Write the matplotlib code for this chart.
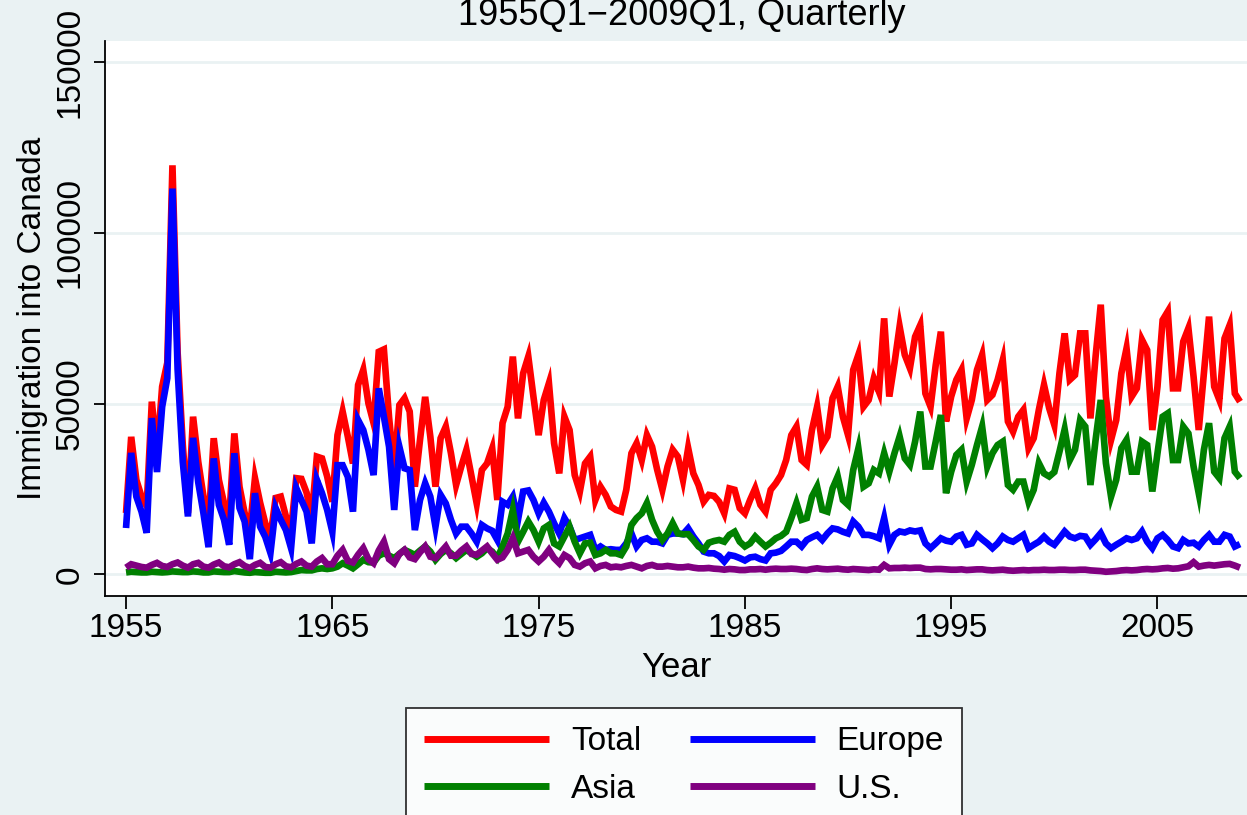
import matplotlib
matplotlib.use("Agg")
import matplotlib.pyplot as plt
import numpy as np

plt.rcParams['font.family'] = ['Liberation Sans', 'DejaVu Sans']

start_year = 1955
# quarterly values, 1955Q1 .. 2009Q1 (thousands)
total = [
    18, 40.3, 27.7, 22.8, 20, 50.6, 35, 55, 62, 119.8, 65, 38,
    18, 46.2, 33, 23, 15, 39.9, 27.7, 20.9, 16, 41.3, 25.7, 18,
    13, 28.2, 21, 15, 11, 22.4, 22.8, 17, 13, 28.2, 28, 24,
    16.9, 34.5, 34, 28.7, 21.3, 40.8, 47.7, 40.4, 32.5, 55.5, 59.9, 50.1,
    44.3, 65.2, 65.9, 46, 30.6, 49.6, 51.6, 47.7, 25.7, 39.4, 52, 40.4,
    25.7, 39.9, 43.3, 35.5, 26.2, 31.6, 36.5, 28.6, 20.8, 30.6, 32.5, 36.9,
    21.8, 44.3, 49.1, 63.8, 45.7, 58.9, 63.8, 52, 40.8, 51.1, 56, 38.4,
    29.6, 46.2, 42.3, 29.1, 24.3, 32.5, 34.5, 21.8, 25.7, 23.3, 19.9, 18.9,
    18.4, 24.8, 35.5, 38.4, 33.5, 40.8, 37.4, 30.6, 24.8, 31.6, 36.5, 34.5,
    27.7, 37, 29.6, 26.2, 21.3, 23.3, 23, 21.3, 17.9, 25.2, 24.8, 19.4,
    17.9, 21.8, 25.2, 20.4, 18.4, 24.8, 26.7, 29.1, 33.5, 40.8, 43.3, 33.5,
    32.1, 42.3, 49.1, 37.9, 40.4, 51.6, 55, 46.2, 40.8, 59.9, 64.3, 49.1,
    51.1, 57.4, 53.5, 75, 52.1, 61.8, 72.6, 64.3, 60.4, 69.6, 73, 53,
    49.1, 61.3, 71.1, 44.8, 52.1, 57, 59.9, 45.7, 51.1, 59.9, 64.3, 51.1,
    52.6, 57, 62.8, 44.8, 41.8, 46.2, 48.2, 37, 39.9, 48.2, 55.5, 48.7,
    43.8, 59, 70.6, 57, 58.4, 70.6, 70.6, 45.7, 63.8, 79, 52, 39.4,
    45.2, 58.9, 66.2, 52.1, 54.5, 68.7, 65.7, 42.3, 55, 74.5, 77, 54.5,
    54.5, 68.2, 72.1, 57.9, 42.3, 58.9, 75.5, 55, 51.1, 69.1, 73, 53,
    50.6,
]
europe = [
    13.6, 35.6, 22.8, 18.4, 12.2, 45.8, 30, 49.1, 57.5, 113, 60, 33,
    17, 40, 27, 18, 8, 34, 20.4, 16, 8.7, 35.5, 19.5, 15.5,
    4.5, 23.8, 14, 11, 6.3, 19.5, 16, 13, 7.7, 25.3, 21.8, 18.4,
    9.1, 27.7, 23.8, 18.9, 12.5, 32, 32, 28.6, 18.4, 45.2, 42.3, 36.5,
    29.1, 54.5, 46.2, 37.4, 18.9, 37.4, 31.1, 30.6, 13, 21.8, 26.7, 22.8,
    14, 23.3, 20.8, 16, 12, 14, 14, 12, 9.6, 14.5, 13.5, 12.8,
    10.1, 21.3, 20.4, 22.8, 16, 24.3, 24.6, 21.8, 17.9, 21, 18.4, 15,
    12, 16.5, 14, 10.1, 10.6, 11.1, 11.6, 7.2, 8.2, 7.2, 7.4, 7.2,
    7.2, 9.1, 12, 8.2, 10.1, 10.6, 9.6, 9.6, 9.1, 11.6, 12, 12,
    11.8, 13.5, 11.1, 9.1, 6.7, 6.2, 6.2, 5.4, 3.8, 5.7, 5.4, 4.8,
    4.1, 5, 5.2, 4.5, 4.1, 6.2, 6.4, 6.9, 8.2, 9.6, 9.6, 8.2,
    10.1, 10.9, 11.6, 10.1, 12, 13.5, 13.2, 12.5, 12, 15.5, 14, 11.6,
    11.6, 11.2, 10.6, 16.5, 8.7, 11.6, 12.6, 12.3, 12.9, 12.6, 12.9, 9.1,
    7.7, 9.1, 10.6, 9.9, 9.6, 11.1, 11.6, 8.7, 9.1, 11.6, 10.3, 9.1,
    7.7, 9.1, 11.1, 10.1, 9.6, 10.6, 11.6, 7.7, 8.7, 9.6, 11.1, 9.6,
    8.7, 10.6, 12.6, 11.1, 10.6, 11.3, 11.1, 8.7, 10.3, 12.1, 9.1, 7.7,
    8.7, 9.6, 10.6, 10.1, 10.6, 12.6, 9.6, 7.7, 10.6, 11.6, 10.1, 8.2,
    7.7, 10.1, 9.1, 9.3, 8.2, 10.1, 11.6, 9.6, 9.6, 11.6, 11.1, 8.2,
    8.9,
]
asia = [
    0.6, 0.8, 0.7, 0.6, 0.6, 0.8, 0.7, 0.6, 0.7, 0.9, 0.8, 0.7,
    0.7, 0.9, 0.8, 0.6, 0.6, 0.9, 0.8, 0.7, 0.7, 1.0, 0.8, 0.6,
    0.5, 0.7, 0.6, 0.5, 0.5, 0.8, 0.7, 0.6, 0.7, 1.0, 1.3, 1.2,
    1.2, 1.6, 1.8, 1.6, 1.8, 2.3, 3.3, 2.6, 1.8, 3.0, 4.3, 3.6,
    3.5, 5.5, 6.2, 5.5, 4.8, 6.0, 7.2, 6.5, 5.7, 7.0, 8.2, 6.7,
    4.3, 6.0, 7.2, 6.2, 4.8, 6.0, 7.2, 6.2, 5.2, 6.2, 7.7, 6.7,
    4.8, 8.2, 12, 18.9, 9.6, 12.5, 15.5, 13, 9.6, 13.5, 14.5, 9.1,
    8.2, 11.1, 14, 9.6, 6.2, 9.1, 9.3, 5.7, 6.2, 7.2, 6.2, 6.2,
    5.7, 8.2, 14.5, 16.5, 17.9, 20.9, 16, 12.5, 10.1, 12, 15, 12,
    11.8, 11.8, 10.1, 8.2, 7.2, 9.3, 9.8, 10.1, 9.6, 11.6, 12.5, 9.6,
    8.2, 9.1, 11.1, 9.6, 8.2, 9.3, 10.6, 11.3, 12.5, 16.5, 20.9, 16,
    16.5, 22.8, 25.7, 18.9, 18.4, 25.2, 28.7, 21.8, 20.4, 30.6, 36.9, 25.7,
    26.7, 30.6, 29.6, 35.5, 30.1, 35.5, 40.4, 34, 32.1, 38.9, 47.7, 31.6,
    31.6, 38.9, 46.7, 23.8, 30.1, 35, 36.5, 27.2, 32.1, 37.9, 43.3, 31.6,
    35.5, 37.9, 38.9, 26.2, 24.8, 27.2, 27.2, 21.3, 24.8, 32.6, 29.6, 28.7,
    30, 36, 42.5, 33.5, 36.5, 45.2, 43.3, 26.2, 39.4, 51.1, 32.6, 22.8,
    27.7, 37, 39.4, 30.1, 30.1, 38.9, 37.9, 24.3, 35.5, 46.2, 47.2, 33.5,
    33.5, 43.3, 41.3, 31.6, 23.8, 36.5, 44.3, 30.1, 28.2, 39.9, 43.3, 30.1,
    28.2,
]
us = [
    2.0, 3.0, 2.6, 2.2, 2.0, 2.8, 3.4, 2.5, 2.2, 3.0, 3.5, 2.6,
    2.0, 3.0, 3.4, 2.3, 2.0, 2.9, 3.5, 2.4, 2.1, 3.0, 3.6, 2.5,
    1.9, 2.8, 3.4, 2.2, 2.0, 3.0, 3.6, 2.4, 2.1, 3.1, 3.8, 2.6,
    2.3, 3.8, 4.8, 3.0, 3.0, 5.5, 7.2, 4.0, 3.5, 5.8, 7.7, 4.5,
    3.3, 7.0, 9.6, 4.5, 3.3, 6.0, 7.2, 5.0, 4.5, 6.5, 8.2, 5.2,
    4.8, 6.5, 8.2, 5.5, 5.5, 7.0, 8.2, 6.0, 5.8, 7.0, 8.2, 6.2,
    4.3, 5.0, 7.2, 10.6, 6.2, 6.7, 7.2, 5.2, 3.8, 5.2, 7.2, 4.8,
    3.3, 5.7, 4.8, 2.8, 2.3, 3.3, 3.8, 1.8, 2.5, 2.8, 2.1, 2.3,
    2.1, 2.5, 2.8, 2.3, 1.8, 2.5, 2.8, 2.3, 2.3, 2.5, 2.3, 2.1,
    2.1, 2.3, 2.0, 1.8, 1.8, 1.9, 1.7, 1.6, 1.4, 1.6, 1.5, 1.3,
    1.3, 1.5, 1.5, 1.6, 1.4, 1.6, 1.7, 1.6, 1.6, 1.7, 1.6, 1.4,
    1.3, 1.6, 1.8, 1.6, 1.5, 1.6, 1.7, 1.5, 1.4, 1.6, 1.5, 1.4,
    1.3, 1.5, 1.4, 2.8, 1.8, 1.9, 1.9, 2.0, 1.9, 2.0, 2.0, 1.6,
    1.5, 1.6, 1.6, 1.5, 1.4, 1.4, 1.5, 1.3, 1.4, 1.5, 1.5, 1.3,
    1.2, 1.3, 1.4, 1.2, 1.1, 1.2, 1.3, 1.2, 1.3, 1.3, 1.4, 1.3,
    1.3, 1.4, 1.4, 1.3, 1.3, 1.4, 1.4, 1.2, 1.1, 1.0, 0.8, 0.9,
    1.0, 1.2, 1.3, 1.2, 1.3, 1.5, 1.6, 1.5, 1.6, 1.8, 1.9, 1.7,
    1.8, 2.1, 2.4, 3.6, 2.3, 2.6, 2.8, 2.6, 2.8, 3.0, 3.1, 2.6,
    2.0,
]

series_names = ["Total", "Europe", "Asia", "U.S."]
series_colors = ["#FF0000", "#0000FF", "#008000", "#800080"]
x_ticks = [1955, 1965, 1975, 1985, 1995, 2005]
y_ticks = [0, 50000, 100000, 150000]

BG = "#EAF2F3"
W, H = 1247, 815
fig = plt.figure(figsize=(W / 100, H / 100), dpi=100, facecolor=BG)
ax = fig.add_axes([105 / W, 1 - 596 / H, (W - 105) / W, (596 - 41) / H])
ax.set_facecolor("white")

t = start_year + np.arange(len(total)) / 4.0
lines = {}
for name, data, col in zip(series_names, [total, europe, asia, us], series_colors):
    ln, = ax.plot(t, np.array(data) * 1000, color=col, lw=4.8,
                  solid_joinstyle='miter', solid_capstyle='butt')
    lines[name] = ln

ax.set_xlim(1953.98, 2009.34)
ax.set_ylim(-6300, 156200)
ax.set_xticks(x_ticks)
ax.set_yticks(y_ticks)
ax.set_xticklabels([str(v) for v in x_ticks])
ax.set_yticklabels([str(v) for v in y_ticks], rotation=90, va='center')
ax.yaxis.grid(True, color=BG, lw=2)
ax.set_axisbelow(True)
for s in ['top', 'right']:
    ax.spines[s].set_visible(False)
for s in ['left', 'bottom']:
    ax.spines[s].set_linewidth(1.3)
    ax.spines[s].set_color('black')
ax.tick_params(axis='x', length=9, width=1.3, labelsize=24, pad=3)
ax.tick_params(axis='y', length=8, width=1.3, labelsize=24, pad=6)
ax.set_xlabel("Year", fontsize=25, labelpad=5)
ax.set_ylabel("Immigration into Canada", fontsize=24, labelpad=5)

fig.text(682 / W, 1 - 25 / H, "1955Q1\u22122009Q1, Quarterly", ha='center',
         va='baseline', fontsize=26)

order = ["Total", "Asia", "Europe", "U.S."]
leg = fig.legend([lines[n] for n in order], order, ncol=2, loc='upper left',
                 bbox_to_anchor=(406 / W, 1 - 708 / H), fontsize=24,
                 frameon=True, fancybox=False, edgecolor='black',
                 handlelength=3.75, handletextpad=0.65, columnspacing=1.45,
                 labelspacing=0.5, borderpad=0.55, borderaxespad=0)
leg.get_frame().set_linewidth(1.3)
leg.get_frame().set_facecolor('white')
for h in leg.legend_handles:
    h.set_linewidth(5)

fig.savefig("out.png", dpi=100, facecolor=BG)
